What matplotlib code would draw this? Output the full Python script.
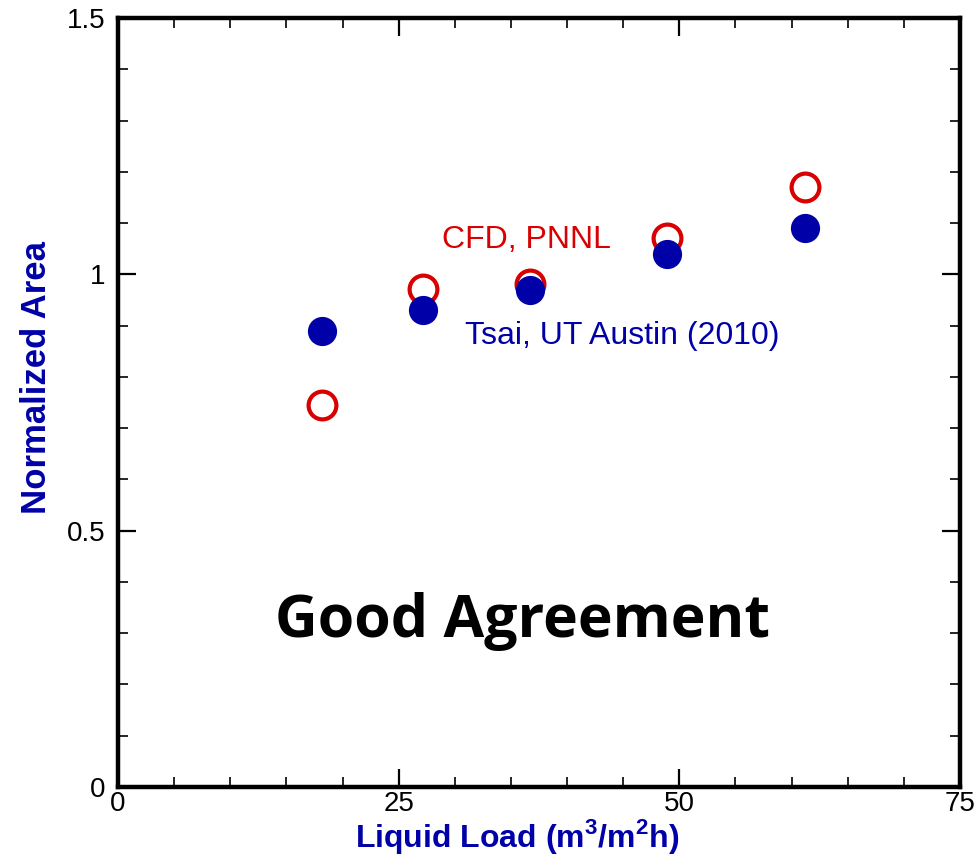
import numpy as np
import matplotlib
matplotlib.use("Agg")
import matplotlib.pyplot as plt
from matplotlib.ticker import MultipleLocator, FixedLocator

# Données : aire normalisée en fonction de la charge liquide
liquid_load_cfd = [18.2, 27.2, 36.7, 48.9, 61.2]
area_cfd = [0.745, 0.971, 0.981, 1.071, 1.170]

liquid_load_exp = [18.2, 27.2, 36.7, 48.9, 61.2]
area_exp = [0.889, 0.930, 0.969, 1.040, 1.090]

xticks = [0, 25, 50, 75]
xtick_labels = ["0", "25", "50", "75"]
yticks = [0, 0.5, 1.0, 1.5]
ytick_labels = ["0", "0.5", "1", "1.5"]

red = "#D80000"
blue = "#0000A8"

plt.rcParams["font.family"] = ["Liberation Sans", "DejaVu Sans"]
plt.rcParams["mathtext.fontset"] = "custom"
plt.rcParams["mathtext.rm"] = "Liberation Sans"
plt.rcParams["mathtext.bf"] = "Liberation Sans:bold"

fig = plt.figure(figsize=(9.79, 8.56), dpi=100)
ax = fig.add_axes([0.1205, 0.0806, 0.8601, 0.8984])

# Simulation CFD (cercles vides) puis mesures (disques pleins)
ax.plot(liquid_load_cfd, area_cfd, linestyle="none", marker="o", markersize=20,
        markerfacecolor="white", markeredgecolor=red, markeredgewidth=3)
ax.plot(liquid_load_exp, area_exp, linestyle="none", marker="o", markersize=20,
        markerfacecolor=blue, markeredgecolor=blue, markeredgewidth=1)

ax.text(28.9, 1.067, "CFD, PNNL", color=red, fontsize=23, va="center", ha="left")
ax.text(30.9, 0.880, "Tsai, UT Austin (2010)", color=blue, fontsize=23,
        va="center", ha="left")
ax.text(36.0, 0.293, "Good Agreement", color="black", fontsize=42.5,
        fontweight="bold", family=["Open Sans", "DejaVu Sans"],
        ha="center", va="baseline")

ax.set_xlim(0, 75)
ax.set_ylim(0, 1.5)
ax.xaxis.set_major_locator(FixedLocator(xticks))
ax.set_xticklabels(xtick_labels)
ax.xaxis.set_minor_locator(MultipleLocator(5))
ax.yaxis.set_major_locator(FixedLocator(yticks))
ax.set_yticklabels(ytick_labels)
ax.yaxis.set_minor_locator(MultipleLocator(0.1))

ax.tick_params(which="both", direction="in", top=True, right=True,
               labelsize=20, colors="black")
ax.tick_params(which="major", length=13, width=1.6, pad=9)
ax.tick_params(axis="x", which="major", pad=3)
ax.tick_params(which="minor", length=7, width=1.2)
for s in ax.spines.values():
    s.set_linewidth(3.2)

ax.set_xlabel(r"Liquid Load (m$^{\mathbf{3}}$/m$^{\mathbf{2}}$h)", color=blue,
              fontsize=23, fontweight="bold", va="baseline")
ax.set_ylabel("Normalized Area", color=blue, fontsize=25, fontweight="bold")
ax.xaxis.set_label_coords(0.474, -0.0785)
ax.yaxis.set_label_coords(-0.077, 0.532)

fig.savefig("out.png", dpi=100)
